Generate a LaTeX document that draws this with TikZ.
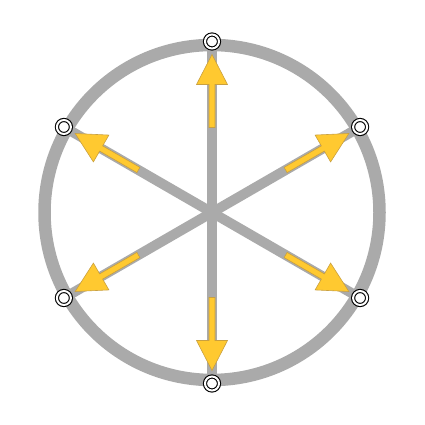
\documentclass[tikz,border=0pt]{standalone}
\usetikzlibrary{positioning}
\usetikzlibrary{calc}
\definecolor{spokegray}{HTML}{AAAAAA}
\definecolor{arrowfill}{HTML}{FFC930}
\definecolor{arrowline}{HTML}{C9A040}
\tikzset{rim/.style={draw=spokegray, line width=12.5pt}}
\tikzset{spoke/.style={draw=spokegray, line width=10pt}}
\tikzset{vert/.style={draw=black, circle, double=white, double distance=2pt, line width=1.1pt, fill=white, minimum size=14pt, inner sep=0pt}}
\tikzset{flow/.style={fill=arrowfill, draw=arrowline, line width=0.6pt, line join=miter}}

\begin{document}
\begin{tikzpicture}[x=1pt,y=1pt]
\useasboundingbox (0,0) rectangle (425,425);
\coordinate (c) at (212,212.5);

\draw[rim] (c) circle (167.5);

\foreach \i/\a in {1/90, 2/30, 3/150, 4/210, 5/330, 6/270} {
  \coordinate (p\i) at ($(c) + (\a:171)$);
  \draw[spoke] (c) -- (p\i);
}

\foreach \a in {90, 30, 150, 210, 330, 270} {
  \begin{scope}[shift={(c)}, rotate=\a]
    \draw[flow] (85,-3) -- (128,-3) -- (128,-15.5) -- (158,0)
      -- (128,15.5) -- (128,3) -- (85,3) -- cycle;
  \end{scope}
}

\foreach \i in {1,...,6}
  \node[vert] (n\i) at (p\i) {};
\end{tikzpicture}
\end{document}
